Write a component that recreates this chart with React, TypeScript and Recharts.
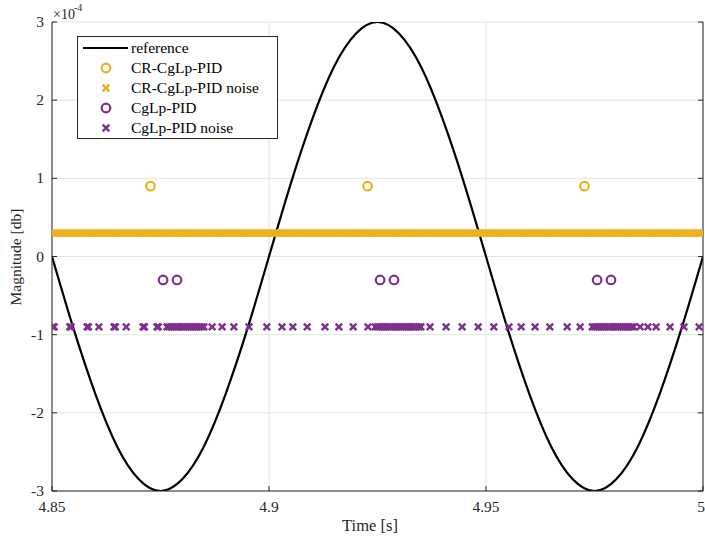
import React from 'react';
import { ComposedChart, Line, Scatter, XAxis, YAxis, CartesianGrid, Customized } from 'recharts';

const FONT = '"Liberation Serif", "Times New Roman", Times, serif';
const AX = '#262626';
const ORANGE = '#EDB120';
const PURPLE = '#7E2F8E';

const xTicks = [4.85, 4.9, 4.95, 5];
const yTicks = [-3, -2, -1, 0, 1, 2, 3];

// reference sine (x 1e-4)
const refTimes = [
  4.85, 4.855, 4.86, 4.865, 4.87, 4.875, 4.88, 4.885, 4.89, 4.895,
  4.9, 4.905, 4.91, 4.915, 4.92, 4.925, 4.93, 4.935, 4.94, 4.945,
  4.95, 4.955, 4.96, 4.965, 4.97, 4.975, 4.98, 4.985, 4.99, 4.995, 5.0,
];
const refValues = [
  0, -0.93, -1.76, -2.43, -2.85, -3, -2.85, -2.43, -1.76, -0.93,
  0, 0.93, 1.76, 2.43, 2.85, 3, 2.85, 2.43, 1.76, 0.93,
  0, -0.93, -1.76, -2.43, -2.85, -3, -2.85, -2.43, -1.76, -0.93, 0,
];

const crTimes = [4.8727, 4.9227, 4.9727];
const crValue = 0.9;

const crNoiseTimes = [
  4.85, 4.8505, 4.851, 4.8515, 4.852, 4.8525, 4.853, 4.8535, 4.854, 4.8545,
  4.855, 4.8555, 4.856, 4.8565, 4.857, 4.8575, 4.858, 4.8585, 4.859, 4.8595,
  4.86, 4.8605, 4.861, 4.8615, 4.862, 4.8625, 4.863, 4.8635, 4.864, 4.8645,
  4.865, 4.8655, 4.866, 4.8665, 4.867, 4.8675, 4.868, 4.8685, 4.869, 4.8695,
  4.87, 4.8705, 4.871, 4.8715, 4.872, 4.8725, 4.873, 4.8735, 4.874, 4.8745,
  4.875, 4.8755, 4.876, 4.8765, 4.877, 4.8775, 4.878, 4.8785, 4.879, 4.8795,
  4.88, 4.8805, 4.881, 4.8815, 4.882, 4.8825, 4.883, 4.8835, 4.884, 4.8845,
  4.885, 4.8855, 4.886, 4.8865, 4.887, 4.8875, 4.888, 4.8885, 4.889, 4.8895,
  4.89, 4.8905, 4.891, 4.8915, 4.892, 4.8925, 4.893, 4.8935, 4.894, 4.8945,
  4.895, 4.8955, 4.896, 4.8965, 4.897, 4.8975, 4.898, 4.8985, 4.899, 4.8995,
  4.9, 4.9005, 4.901, 4.9015, 4.902, 4.9025, 4.903, 4.9035, 4.904, 4.9045,
  4.905, 4.9055, 4.906, 4.9065, 4.907, 4.9075, 4.908, 4.9085, 4.909, 4.9095,
  4.91, 4.9105, 4.911, 4.9115, 4.912, 4.9125, 4.913, 4.9135, 4.914, 4.9145,
  4.915, 4.9155, 4.916, 4.9165, 4.917, 4.9175, 4.918, 4.9185, 4.919, 4.9195,
  4.92, 4.9205, 4.921, 4.9215, 4.922, 4.9225, 4.923, 4.9235, 4.924, 4.9245,
  4.925, 4.9255, 4.926, 4.9265, 4.927, 4.9275, 4.928, 4.9285, 4.929, 4.9295,
  4.93, 4.9305, 4.931, 4.9315, 4.932, 4.9325, 4.933, 4.9335, 4.934, 4.9345,
  4.935, 4.9355, 4.936, 4.9365, 4.937, 4.9375, 4.938, 4.9385, 4.939, 4.9395,
  4.94, 4.9405, 4.941, 4.9415, 4.942, 4.9425, 4.943, 4.9435, 4.944, 4.9445,
  4.945, 4.9455, 4.946, 4.9465, 4.947, 4.9475, 4.948, 4.9485, 4.949, 4.9495,
  4.95, 4.9505, 4.951, 4.9515, 4.952, 4.9525, 4.953, 4.9535, 4.954, 4.9545,
  4.955, 4.9555, 4.956, 4.9565, 4.957, 4.9575, 4.958, 4.9585, 4.959, 4.9595,
  4.96, 4.9605, 4.961, 4.9615, 4.962, 4.9625, 4.963, 4.9635, 4.964, 4.9645,
  4.965, 4.9655, 4.966, 4.9665, 4.967, 4.9675, 4.968, 4.9685, 4.969, 4.9695,
  4.97, 4.9705, 4.971, 4.9715, 4.972, 4.9725, 4.973, 4.9735, 4.974, 4.9745,
  4.975, 4.9755, 4.976, 4.9765, 4.977, 4.9775, 4.978, 4.9785, 4.979, 4.9795,
  4.98, 4.9805, 4.981, 4.9815, 4.982, 4.9825, 4.983, 4.9835, 4.984, 4.9845,
  4.985, 4.9855, 4.986, 4.9865, 4.987, 4.9875, 4.988, 4.9885, 4.989, 4.9895,
  4.99, 4.9905, 4.991, 4.9915, 4.992, 4.9925, 4.993, 4.9935, 4.994, 4.9945,
  4.995, 4.9955, 4.996, 4.9965, 4.997, 4.9975, 4.998, 4.9985, 4.999, 4.9995,
  5.0,
];
const crNoiseValue = 0.3;

const cgTimes = [4.8756, 4.8788, 4.9256, 4.9288, 4.9756, 4.9788];
const cgValue = -0.3;

const cgNoiseTimes = [
  4.8502, 4.8505, 4.8541, 4.8544, 4.8581, 4.8584, 4.8608, 4.8643, 4.8646, 4.8671, 4.871, 4.8713, 4.8742, 4.8745,
  4.8765, 4.877, 4.8775, 4.878, 4.8785, 4.879, 4.8795, 4.88, 4.8805, 4.881, 4.8815, 4.882, 4.8825, 4.883, 4.8835, 4.884, 4.8845, 4.885,
  4.8869, 4.8892, 4.8919, 4.8954, 4.8995, 4.903, 4.9055, 4.9088, 4.9129, 4.9161, 4.9194, 4.9228,
  4.9245, 4.925, 4.9255, 4.926, 4.9265, 4.927, 4.9275, 4.928, 4.9285, 4.929, 4.9295, 4.93, 4.9305, 4.931, 4.9315, 4.932, 4.9325, 4.933, 4.9335, 4.934, 4.9345, 4.935,
  4.9371, 4.9408, 4.9445, 4.9482, 4.9518, 4.9553, 4.9581, 4.9613, 4.9647, 4.9687, 4.9717,
  4.9745, 4.975, 4.9755, 4.976, 4.9765, 4.977, 4.9775, 4.978, 4.9785, 4.979, 4.9795, 4.98, 4.9805, 4.981, 4.9815, 4.982, 4.9825, 4.983, 4.9835, 4.984,
  4.9855, 4.9873, 4.9892, 4.9924, 4.9956, 4.9991,
];
const cgNoiseValue = -0.9;

const refData = refTimes.map((t, i) => ({ t, v: refValues[i] }));
const crData = crTimes.map((t) => ({ t, v: crValue }));
const crNoiseData = crNoiseTimes.map((t) => ({ t, v: crNoiseValue }));
const cgData = cgTimes.map((t) => ({ t, v: cgValue }));
const cgNoiseData = cgNoiseTimes.map((t) => ({ t, v: cgNoiseValue }));

const makeCircle = (color: string) => (p: any) => (
  <circle cx={p.cx} cy={p.cy} r={4.3} fill="none" stroke={color} strokeWidth={2.2} />
);
const makeCross = (color: string) => (p: any) => {
  const s = 3.3;
  const { cx, cy } = p;
  return (
    <path
      d={`M${cx - s},${cy - s}L${cx + s},${cy + s}M${cx - s},${cy + s}L${cx + s},${cy - s}`}
      stroke={color}
      strokeWidth={2.4}
      fill="none"
    />
  );
};

const XTick = (p: any) => (
  <text x={p.x} y={p.y + 14} textAnchor="middle" fontFamily={FONT} fontSize={15.5} fill={AX}>
    {String(p.payload.value)}
  </text>
);
const YTick = (p: any) => (
  <text x={p.x} y={p.y + 5} textAnchor="end" fontFamily={FONT} fontSize={15.5} fill={AX}>
    {String(p.payload.value)}
  </text>
);

const legendItems = [
  { label: 'reference', kind: 'line', color: '#000' },
  { label: 'CR-CgLp-PID', kind: 'circle', color: ORANGE },
  { label: 'CR-CgLp-PID noise', kind: 'cross', color: ORANGE },
  { label: 'CgLp-PID', kind: 'circle', color: PURPLE },
  { label: 'CgLp-PID noise', kind: 'cross', color: PURPLE },
];

const Overlay = () => {
  const lx = 77, ly = 36, lw = 200, lh = 102;
  return (
    <g>
      <text x={53} y={19} fontSize={14} fill={AX} fontFamily={FONT}>×10</text>
      <text x={74} y={11} fontSize={10} fill={AX} fontFamily={FONT}>-4</text>
      <text x={370} y={531} fontSize={16.5} fill={AX} textAnchor="middle" fontFamily={FONT}>Time [s]</text>
      <text
        x={21}
        y={257}
        fontSize={15.5}
        fill={AX}
        textAnchor="middle"
        fontFamily={FONT}
        transform="rotate(-90 21 257)"
      >
        Magnitude [db]
      </text>
      <rect x={lx + 0.5} y={ly + 0.5} width={lw} height={lh} fill="#fff" stroke={AX} strokeWidth={1} />
      {legendItems.map((it, i) => {
        const cy = ly + 12 + i * 20;
        const ix = 106;
        let icon: any = null;
        if (it.kind === 'line') {
          icon = <line x1={83} x2={128} y1={cy} y2={cy} stroke="#000" strokeWidth={2.2} />;
        } else if (it.kind === 'circle') {
          icon = makeCircle(it.color)({ cx: ix, cy });
        } else {
          icon = makeCross(it.color)({ cx: ix, cy });
        }
        return (
          <g key={it.label}>
            {icon}
            <text x={131} y={cy + 5} fontSize={15.5} fill="#000" fontFamily={FONT}>
              {it.label}
            </text>
          </g>
        );
      })}
    </g>
  );
};

export default function App() {
  return (
    <div style={{ position: 'absolute', left: 0, top: 0, width: 705, height: 540, background: '#fff' }}>
      <ComposedChart width={705} height={540} margin={{ top: 22, right: 1, bottom: 0, left: 0 }}>
        <CartesianGrid stroke="#e3e3e3" strokeWidth={1} />
        <XAxis
          dataKey="t"
          type="number"
          domain={[4.85, 5]}
          ticks={xTicks}
          allowDataOverflow
          height={49}
          tickSize={-5}
          tickMargin={12}
          stroke={AX}
          tick={XTick}
        />
        <XAxis
          xAxisId="top"
          orientation="top"
          dataKey="t"
          type="number"
          domain={[4.85, 5]}
          ticks={xTicks}
          allowDataOverflow
          height={0}
          tickSize={-5}
          stroke={AX}
          tickFormatter={() => ''}
        />
        <YAxis
          dataKey="v"
          type="number"
          domain={[-3, 3]}
          ticks={yTicks}
          allowDataOverflow
          width={52}
          tickSize={-5}
          tickMargin={13}
          stroke={AX}
          tick={YTick}
        />
        <YAxis
          yAxisId="right"
          orientation="right"
          dataKey="v"
          type="number"
          domain={[-3, 3]}
          ticks={yTicks}
          allowDataOverflow
          width={1}
          tickSize={-5}
          stroke={AX}
          tickFormatter={() => ''}
        />
        <Scatter data={crNoiseData} dataKey="v" shape={makeCross(ORANGE)} isAnimationActive={false} />
        <Scatter data={cgNoiseData} dataKey="v" shape={makeCross(PURPLE)} isAnimationActive={false} />
        <Scatter data={crData} dataKey="v" shape={makeCircle(ORANGE)} isAnimationActive={false} />
        <Scatter data={cgData} dataKey="v" shape={makeCircle(PURPLE)} isAnimationActive={false} />
        <Line
          data={refData}
          dataKey="v"
          type="natural"
          stroke="#000"
          strokeWidth={2.2}
          dot={false}
          activeDot={false}
          isAnimationActive={false}
        />
        <Customized component={Overlay} />
      </ComposedChart>
    </div>
  );
}
